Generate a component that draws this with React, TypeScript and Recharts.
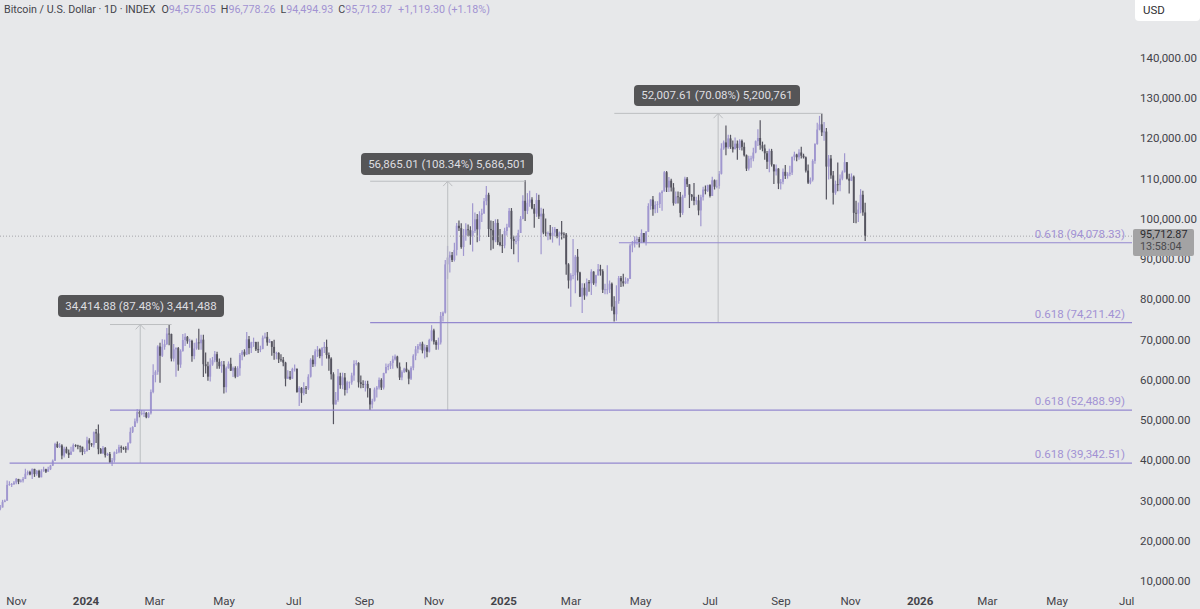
import React from "react";
import { ComposedChart, Bar, XAxis, YAxis, ReferenceLine } from "recharts";

const startDay = -75; // days from 2024-01-01 of the first candle
const stepDays = 2;

// [close, high, low] in thousands of USD, one row per two days
const candles2023 = [
[28.3,28.9,27.6],[29.7,30.2,28.4],[30.0,30.3,29.6],[33.9,35.0,30.8],[34.1,34.8,33.7],[34.1,34.4,33.4],[34.5,34.9,33.9],[35.4,35.6,34.1],[34.7,35.3,34.1],[35.0,35.3,34.5],
[35.4,35.9,34.5],[36.7,37.9,35.4],[37.1,37.5,36.3],[36.5,37.4,36.3],[37.9,38.0,35.4],[36.6,37.9,35.9],[37.4,37.6,36.2],[35.8,37.7,35.7],[37.3,37.8,35.8],[37.8,38.4,37.2],
[37.2,37.9,36.9],[37.8,38.4,37.2],[38.7,38.9,37.6],[39.9,40.2,38.6],[44.1,44.4,39.9],[43.3,44.7,43.1],[43.7,44.3,43.1],[41.2,44.0,40.3],[42.9,43.4,40.7],[41.9,43.4,41.7],
[41.4,42.7,40.6],[42.2,43.4,41.8],[43.8,44.2,42.2],[43.7,44.0,43.3],[43.6,43.9,42.8],[43.4,43.7,42.0],[42.1,43.1,41.3],[42.3,42.9,41.6],
];
const candles2024 = [
[45,45.9,42.2],[44.2,45.5,42.6],[43.9,44.3,43.4],[47,47.2,43.2],[46.7,47.8,44.3],[42.8,48.9,41.5],[41.7,43.1,41.7],[43.1,43.6,41.7],[41.3,43.3,40.7],[41.6,41.9,41.1],
[39.5,42.1,39.4],[40,40.6,38.6],[42,42.2,39.5],[42,42.8,41.6],[43.3,43.9,41.8],[43.1,43.7,41.9],[43,43.4,42.6],[42.7,43.5,41.9],[44.3,44.5,42.5],[47.1,48.2,44.2],
[48.3,48.5,46.8],[49.7,50.4,48.3],[52,52.8,49.2],[51.6,52.6,50.7],[51.8,52.5,51.2],[51.8,52.4,50.8],[50.7,52,50.5],[51.7,52,50.5],[57,57.6,51.4],[61.2,63.9,56.7],
[62,62.4,59.4],[68.3,68.6,61.3],[66,69.2,59.3],[68.2,70.1,65.7],[68.9,70,67.5],[71.5,72.9,68.7],[71.4,73.8,68.6],[65.3,71.5,64.6],[67.6,68.9,64.6],[67.9,68.1,60.8],
[63.8,68.2,62.3],[67.2,67.6,63],[69.9,71.4,67],[70.7,71.6,68.4],[69.6,70.9,69],[69.7,70.2,68],[65.9,70,64.5],[67.8,69.2,65.1],[69.3,70.3,67.5],[69.1,72.7,67.5],
[70,71.2,67.5],[63.9,71.2,60.7],[63.4,66.8,61.6],[60.8,64.5,59.8],[63.8,65.4,59.6],[64.9,65.7,63.5],[66.4,67.2,64.4],[64.5,67,62.8],[63.4,65.3,62.8],[63.8,64.7,61.8],
[58.2,64.7,56.6],[62.9,63.3,56.9],[64,64.6,62.8],[62.3,65.5,62.2],[63,63.3,60.7],[60.8,63.4,60.4],[62.9,63.4,60.7],[66.2,66.7,61],[67,67.4,64.9],[66.3,67.6,65.8],
[70.1,71.9,66.2],[67.9,70.9,66.4],[69.3,69.5,66.7],[69.4,70.5,68.2],[67.6,69.5,67.2],[67.5,69.5,66.7],[67.7,68.5,66.9],[70.5,71,67.6],[70.7,71.7,70.2],[69.3,71.9,68.5],
[69.6,70.2,69.2],[68.2,69.6,66],[66.7,70,65],[66.7,67,65.1],[65.1,66.9,64.2],[65,66.4,64.5],[64.3,65.7,63.4],[60.3,64.5,58.4],[60.8,62.4,60.3],[60.3,62.2,60],
[62.7,63,60.6],[62.8,63.8,62.1],[57,62.5,56.8],[58,58.4,53.5],[56.7,58.2,54.3],[58,59.4,56.2],[57.9,58.5,56.5],[60.8,61.4,57.5],[65,65.4,60.6],[63.9,66.1,63.2],
[67.1,67.6,63.3],[67.5,68.4,65.7],[65.9,67.8,65.4],[67.9,68.2,63.5],[68.2,69.4,66.7],[66.2,70,65.3],[65.3,66.8,62.3],[61.4,65.6,60.1],[53.9,61.9,49.0],[55,57,54],
[60.9,62.7,54.6],[58.7,61.8,57.8],[60.6,61.8,57.7],[57.5,61.7,56.1],[59.4,59.8,56.7],[59.4,59.6,57.9],[61.1,61.8,58.8],[64,64.9,59.8],[64.2,64.9,63.6],[59.4,64.4,58.1],
[59,61.1,57.9],[58.9,59.9,58],[59,59.8,57.1],[57.9,59.8,55.6],[53.9,57,52.5],[54.8,55.3,52.9],[57.6,58.1,54.6],[58.1,58.5,55.6],[60,60.6,57.6],[58.1,60.4,57.5],
[61.7,61.8,57.6],[63.2,64.1,61.6],[63.5,64,62.4],[64.2,64.7,62.7],[65.1,66,62.8],[65.8,66.3,64.8],[63.3,66,62.9],[60.6,64.3,60],[62,62.4,59.9],[62.8,63,61.7],
[62.1,64.4,61.9],[60.3,62.5,58.9],[63,63.4,60],[66,66.4,62.4],[67.6,68.4,64.9],[68.4,68.9,66.6],[69,69.4,67.5],[67.3,69.5,66.6],[68.1,68.8,65.3],[67,68.7,65.6],
[69.9,70.2,66.8],[72.3,73.6,69.6],[69.5,72.7,68.8],[68.7,69.9,67.5],[69.3,70.5,67.5],[75.9,76.9,68.8],[76.7,77,74.5],[88.7,89.8,76.5],[90.4,93.3,85.1],[91,91.9,86.7],
[89.8,91.8,89.3],[92.3,94.1,89.4],[98.3,99,90.9],[97.7,99.6,97],[93,98.9,92.6],[95.9,97.5,90.8],[97.4,98.9,94.6],[97.2,98.6,95.7],[95.8,98.2,93.6],[97,103.9,91.9],
[99.9,101.6,96.5],[97.4,101.2,94.2],[101,101.9,94.5],[101.4,102.5,99.2],[104.4,105.2,101.2],[106,108.2,103.4],[97.5,106.5,95.5],[97.2,99.6,92.2],[94.7,99.5,92.6],[99,99.9,94.2],
[94.2,99.9,93.5],[93.5,97.5,93.2],[93.4,96.2,91.5],
];
const candles2025 = [
[97,97.8,92.7],[98,98.8,95.9],[102,102.7,97.8],[95,102.7,92.5],[94.5,95.8,91.2],[94.5,95.8,93.7],[96.5,97.3,89.2],[100,100.7,96.5],[104.5,105.9,99.9],[102,109.6,99.5],
[104,106.4,101.2],[104.8,107,103],[102.6,105.4,102.4],[101.3,103.7,97.8],[104.7,106.4,100.5],[100.6,106,100],[101.3,102.8,91.2],[96.6,102.5,96.2],[96.5,100.1,95.7],[96.5,96.9,94.7],
[95.7,98.5,94.9],[96.6,98,94.1],[97.5,98,95.6],[95.7,97.1,95.2],[96.6,96.9,93.4],[96.3,99.5,94.9],[96.1,96.7,95.2],[88.7,96.5,86.1],[84.7,89,82.7],[86,86.5,78.2],
[86,95,85],[90.6,91,81.5],[86.7,92.5,84.7],[80.7,86.9,80.6],[82.9,84,76.6],[81,84,79.9],[84.3,85.2,80.7],[84,84.8,81.9],[86.9,87.5,81.1],[84,87,83.6],
[86,86.1,83.2],[87.5,88.8,85.9],[87,88.6,85.9],[82.4,87.5,81.6],[82.5,83.9,81.3],[82.5,88.5,81.3],[83.9,84.7,81.6],[78.2,84.2,77.2],[76.3,80.8,74.5],[79.6,83.5,74.7],
[85.3,85.8,78.9],[84.5,85.8,83.1],[84,86.4,83.2],[84.5,85.5,83.8],[85.1,85.3,83.9],[93.4,93.8,85.1],[93.9,94.5,91.7],[94.7,95.7,92.9],[95,95.6,93.6],[94.2,95.5,92.9],
[96.5,97.4,94],[94.3,96.4,94],[96.8,97,93.4],[103.2,103.9,96.8],[104.8,104.9,102.3],[102.4,105.7,100.8],[103.5,104.4,101.4],[103.7,104.4,101.5],[106.4,106.6,102.7],[106.8,107.1,102],
[111.6,111.9,106.8],[107.8,111.9,106.7],[109.5,110.4,106.7],[107.8,110,106.8],[103.9,108.9,103.3],[105.6,106.8,103.7],[105.4,106.8,103.8],[101.5,106.7,100.4],[105.6,106,101],[110,110.5,105.2],
[108.6,110.4,107.9],[106,108.6,102.7],[105.5,106.2,104.5],[104.5,108.9,103.4],[104.6,105.5,103.5],[102.1,106,100.9],[105.4,106,98.2],[107.3,108,104.6],[107,108.3,106.1],[108.4,108.5,106.7],
[105.7,108.6,105.3],[109.6,110.5,105.8],[108,109.8,107.3],[108.2,109.7,107.6],[111.2,111.9,107.5],[117.5,118.8,111],[119,119.5,117.2],[117.8,123.2,115.8],[120,120.9,117.4],[117.9,120.9,117.4],
[117.3,119.5,116.5],[118.7,120.2,117.3],[117.6,119.5,114.7],[119.4,119.8,117.1],[117.9,119.7,117],[115.8,119,115.5],[112.5,116,111.9],[115,115.7,112],[115,115.7,112.7],[116.5,117.7,114.3],
[119.3,119.5,116.3],[120.1,122.3,118.1],[118.3,124.5,117.2],[117.5,119.2,116.8],[116.3,118.5,114.7],[114.2,116.9,112.4],[116.9,117.4,111.6],[113.5,117.4,113],[111.8,113.6,108.7],[112.5,113.5,110.8],
[108.8,112.6,107.4],[109.2,109.9,107.3],[111.7,112.5,108.6],[110.7,113.4,109.9],[111.1,111.6,110],[111.5,113.2,110.6],[115.4,115.5,110.9],[116,116.7,114.5],[115.3,116.2,114.3],[116.5,117.3,114.7],
[115.7,117.9,115],[115.3,116.2,115],[112,115.5,111.5],[109,113.5,108.7],[109.7,110.3,108.6],[114.4,114.8,109.3],[118.6,118.8,113.7],[122.2,123.9,118.4],[123.5,125.6,122],[121.5,126.2,120.6],
[121.7,124.1,119.4],[113,122.6,104.8],[115,115.9,109.8],[110.8,115.9,110],[106.5,111.9,103.6],[108.6,109.5,106],[108.4,114,106.9],[110,111,106.9],[111.6,112,109.6],[114.1,116.3,111.5],
[110,114,109.8],[109.5,111.2,106.3],[110.5,111.3,109.4],[101.5,110.8,99],[101.3,104.5,98.9],[102.3,104.1,99.2],[106,107.4,101.4],[101.6,107,100.8],[95.71,104,94.49],
];

const monthTicks = [-61, 0, 60, 121, 182, 244, 305, 366, 425, 486, 547, 609, 670, 731, 790, 851, 912];
const monthLabels = ["Nov", "2024", "Mar", "May", "Jul", "Sep", "Nov", "2025", "Mar", "May", "Jul", "Sep", "Nov", "2026", "Mar", "May", "Jul"];
const priceTicks = [10000, 20000, 30000, 40000, 50000, 60000, 70000, 80000, 90000, 100000, 110000, 120000, 130000, 140000];

const fibPrices = [94078.33, 74211.42, 52488.99, 39342.51];
const fibStartDays = [467, 249, 21, -67];
const fibLabels = ["0.618 (94,078.33)", "0.618 (74,211.42)", "0.618 (52,488.99)", "0.618 (39,342.51)"];

const measureDays = [47.5, 317, 554];
const measureTops = [73757.39, 109354, 126218.6];
const measureBottoms = [39342.51, 52488.99, 74211.42];
const measureFromDays = [21, 249, 463];
const measureToDays = [75, 385, 645];
const measureLabels = ["34,414.88 (87.48%) 3,441,488", "56,865.01 (108.34%) 5,686,501", "52,007.61 (70.08%) 5,200,761"];

const lastPrice = 95712.87;
const WIDTH = 1200;
const HEIGHT = 609;
const RIGHT = 68;
const BOTTOM = 19;
const xMin = -75.4;
const xMax = 916.7;
const yMin = 7801;
const yMax = 154385;

const allRows = [...candles2023, ...candles2024, ...candles2025];
const chartData = allRows.map((r, i) => {
  const open = i === 0 ? 28.0 : allRows[i - 1][0];
  const close = r[0];
  const high = Math.max(r[1], open, close);
  const low = Math.min(r[2], open, close);
  return {
    day: startDay + i * stepDays,
    open: open * 1000,
    close: close * 1000,
    high: high * 1000,
    low: low * 1000,
  };
});

const UP = "#a097cf";
const DOWN = "#55545f";
const PURPLE = "#9488cf";
const GREY_LINE = "#bcbec1";
const FONT = "Roboto, 'Liberation Sans', sans-serif";

const Candle = (props: any) => {
  const { x, y, width, height, payload } = props;
  const range = payload.high - payload.low || 1;
  const k = height / range;
  const cx = x + width / 2;
  const top = y + (payload.high - Math.max(payload.open, payload.close)) * k;
  const bot = y + (payload.high - Math.min(payload.open, payload.close)) * k;
  const up = payload.close >= payload.open;
  const color = up ? UP : DOWN;
  return (
    <g>
      <line x1={cx} x2={cx} y1={y} y2={y + height} stroke={color} strokeWidth={1.2} />
      <rect x={x} y={top} width={width} height={Math.max(bot - top, 0.8)} fill={color} />
    </g>
  );
};

const XTick = (props: any) => {
  const { x, y, payload, index } = props;
  const label = monthLabels[monthTicks.indexOf(payload.value)] ?? monthLabels[index];
  const bold = /^\d+$/.test(label);
  return (
    <text x={x} y={y + 3} textAnchor="middle" dominantBaseline="central" fontFamily={FONT} fontSize={11.5} fontWeight={bold ? 700 : 400} fill="#434349">
      {label}
    </text>
  );
};

const YTick = (props: any) => {
  const { x, y, payload } = props;
  const v = Number(payload.value).toLocaleString("en-US", { minimumFractionDigits: 2, maximumFractionDigits: 2 });
  return (
    <text x={x} y={y} textAnchor="start" dominantBaseline="central" fontFamily={FONT} fontSize={11.5} fill="#434349">
      {v}
    </text>
  );
};

const pyOf = (v: number) => ((yMax - v) / (yMax - yMin)) * (HEIGHT - BOTTOM);

const headerParts = [
  { t: "Bitcoin / U.S. Dollar · 1D · INDEX", c: "#44444a", m: 6 },
  { t: "O", c: "#44444a", m: 0 },
  { t: "94,575.05", c: "#a293d2", m: 5 },
  { t: "H", c: "#44444a", m: 0 },
  { t: "96,778.26", c: "#a293d2", m: 5 },
  { t: "L", c: "#44444a", m: 0 },
  { t: "94,494.93", c: "#a293d2", m: 5 },
  { t: "C", c: "#44444a", m: 0 },
  { t: "95,712.87", c: "#a293d2", m: 6 },
  { t: "+1,119.30 (+1.18%)", c: "#a293d2", m: 0 },
];

const tooltipBoxes = [
  { left: 58, top: 295, width: 166, height: 22 },
  { left: 361, top: 153, width: 172, height: 22 },
  { left: 634, top: 85, width: 166, height: 21 },
];

export default function App() {
  return (
    <div style={{ position: "absolute", left: 0, top: 0, width: WIDTH, height: HEIGHT, background: "#e7e8ea", overflow: "hidden", fontFamily: FONT }}>
      <ComposedChart width={WIDTH} height={HEIGHT} data={chartData} margin={{ top: 0, right: 0, bottom: 0, left: 0 }}>
        <XAxis
          dataKey="day"
          type="number"
          domain={[xMin, xMax]}
          ticks={monthTicks}
          interval={0}
          height={BOTTOM}
          axisLine={false}
          tickLine={false}
          tick={<XTick />}
          tickMargin={2}
          allowDataOverflow
        />
        <YAxis
          orientation="right"
          type="number"
          domain={[yMin, yMax]}
          ticks={priceTicks}
          interval={0}
          width={RIGHT}
          axisLine={false}
          tickLine={false}
          tick={<YTick />}
          tickMargin={2}
          allowDataOverflow
        />
        <ReferenceLine y={lastPrice} stroke="#a5a6aa" strokeDasharray="1 2" strokeWidth={1} />
        <Bar dataKey={(d: any) => [d.low, d.high]} barSize={1.9} shape={<Candle />} isAnimationActive={false} />
        {measureDays.map((d, i) => (
          <ReferenceLine key={"mv" + i} segment={[{ x: d, y: measureBottoms[i] }, { x: d, y: measureTops[i] }]} stroke={GREY_LINE} strokeWidth={1} ifOverflow="visible" />
        ))}
        {measureDays.map((d, i) => (
          <ReferenceLine key={"mt" + i} segment={[{ x: measureFromDays[i], y: measureTops[i] }, { x: measureToDays[i], y: measureTops[i] }]} stroke={GREY_LINE} strokeWidth={1} ifOverflow="visible" />
        ))}
        {measureDays.map((d, i) => (
          <ReferenceLine key={"al" + i} segment={[{ x: d - 4, y: measureTops[i] - 1200 }, { x: d, y: measureTops[i] }]} stroke={GREY_LINE} strokeWidth={1} ifOverflow="visible" />
        ))}
        {measureDays.map((d, i) => (
          <ReferenceLine key={"ar" + i} segment={[{ x: d + 4, y: measureTops[i] - 1200 }, { x: d, y: measureTops[i] }]} stroke={GREY_LINE} strokeWidth={1} ifOverflow="visible" />
        ))}
        {fibPrices.map((p, i) => (
          <ReferenceLine key={"f" + i} segment={[{ x: fibStartDays[i], y: p }, { x: xMax, y: p }]} stroke={PURPLE} strokeWidth={1.2} ifOverflow="visible" />
        ))}
      </ComposedChart>

      <div style={{ position: "absolute", left: 4, top: 2, fontSize: 10.7, lineHeight: "15px", whiteSpace: "nowrap", display: "flex" }}>
        {headerParts.map((p, i) => (
          <span key={i} style={{ color: p.c, marginRight: p.m }}>{p.t}</span>
        ))}
      </div>

      <div style={{ position: "absolute", left: 1135, top: -4, width: 65, height: 25, background: "#fff", borderRadius: 4, fontSize: 11.5, color: "#2f2f33", lineHeight: "25px", paddingLeft: 8, paddingTop: 2, boxSizing: "border-box" }}>
        USD
      </div>

      {fibLabels.map((t, i) => (
        <div key={t} style={{ position: "absolute", right: WIDTH - 1125, top: pyOf(fibPrices[i]) - 16, fontSize: 11.5, lineHeight: "14px", color: "#a292d4", whiteSpace: "nowrap" }}>
          {t}
        </div>
      ))}

      {measureLabels.map((t, i) => (
        <div key={t} style={{ position: "absolute", ...tooltipBoxes[i], background: "#555557", borderRadius: 4, color: "#dedee0", fontSize: 11.5, lineHeight: tooltipBoxes[i].height + "px", textAlign: "center", whiteSpace: "nowrap" }}>
          {t}
        </div>
      ))}

      <div style={{ position: "absolute", left: 1133, top: 229, width: 61, height: 27, background: "#a3a3a4", borderRadius: 2, fontSize: 10.8, lineHeight: "12px", paddingLeft: 7, paddingTop: 0, boxSizing: "border-box", color: "#2b2b2f" }}>
        <div style={{ height: 12 }}>95,712.87</div>
        <div style={{ height: 12, color: "#4a4a4e" }}>13:58:04</div>
      </div>
    </div>
  );
}
